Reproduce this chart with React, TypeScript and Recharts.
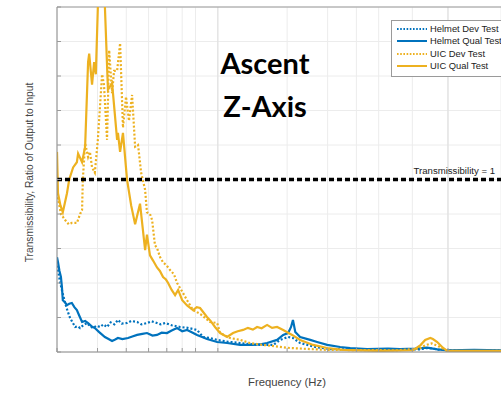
import React from 'react';
import { LineChart, Line, XAxis, YAxis, CartesianGrid, ReferenceLine } from 'recharts';

// ---- data (frequency in Hz, transmissibility ratio) ----
const freqTicks = [2, 3, 4, 5, 6, 7, 8, 9, 10, 20, 30, 40, 50, 60, 70, 80, 90, 100];
const yTicks = [0, 0.2, 0.4, 0.6, 0.8, 1.0, 1.2, 1.4, 1.6, 1.8, 2.0];

const helmetDevTest: [number, number][] = [
  [2.0, 0.5], [2.02, 0.475], [2.06, 0.41], [2.1, 0.359], [2.17, 0.284], [2.22, 0.24], [2.28, 0.197], [2.34, 0.17],
  [2.4, 0.145], [2.46, 0.15], [2.52, 0.139], [2.6, 0.155], [2.7, 0.168], [2.78, 0.15], [2.87, 0.139],
  [2.97, 0.152], [3.08, 0.145], [3.18, 0.16], [3.3, 0.145], [3.42, 0.172], [3.55, 0.16], [3.68, 0.186],
  [3.82, 0.165], [4.03, 0.168], [4.2, 0.18], [4.46, 0.174], [4.65, 0.16], [4.92, 0.168], [5.15, 0.178],
  [5.44, 0.168], [5.65, 0.16], [5.9, 0.168], [6.3, 0.155], [6.85, 0.145], [7.4, 0.14], [8.12, 0.128],
  [8.63, 0.087], [9.3, 0.08], [9.93, 0.07], [11, 0.06], [12.5, 0.052], [14.81, 0.041], [17.4, 0.041],
  [18.65, 0.07], [20.2, 0.087], [21.2, 0.081], [22.78, 0.052], [26.5, 0.029], [30.8, 0.017], [40, 0.014],
  [50, 0.012], [62, 0.013], [75, 0.015], [81, 0.023], [86, 0.02], [92, 0.012], [110, 0.01], [170, 0.01],
];

const helmetQualTest: [number, number][] = [
  [2.0, 0.55], [2.02, 0.52], [2.05, 0.47], [2.08, 0.435], [2.1, 0.38], [2.12, 0.3], [2.16, 0.29],
  [2.21, 0.272], [2.26, 0.28], [2.32, 0.284], [2.38, 0.26], [2.44, 0.243], [2.5, 0.21], [2.57, 0.174],
  [2.65, 0.18], [2.73, 0.168], [2.82, 0.15], [2.92, 0.139], [3.05, 0.115], [3.23, 0.087], [3.35, 0.075],
  [3.47, 0.064], [3.58, 0.072], [3.68, 0.081], [3.85, 0.075], [4.07, 0.081], [4.25, 0.09], [4.46, 0.099],
  [4.7, 0.105], [4.92, 0.11], [5.2, 0.095], [5.44, 0.099], [5.7, 0.112], [6.01, 0.11], [6.3, 0.125],
  [6.65, 0.139], [7.0, 0.12], [7.35, 0.128], [7.7, 0.115], [8.12, 0.099], [8.6, 0.085], [8.97, 0.075],
  [9.93, 0.058], [10.97, 0.052], [12.5, 0.041], [14.2, 0.041], [15.5, 0.046], [16.37, 0.052], [18.09, 0.07],
  [19.23, 0.099], [20.2, 0.11], [20.8, 0.145], [21.2, 0.186], [21.7, 0.116], [22.78, 0.087], [25.2, 0.07],
  [27.0, 0.058], [29.86, 0.041], [34, 0.029], [37.6, 0.023], [44.6, 0.017], [55, 0.02], [61.9, 0.017],
  [72, 0.02], [81.2, 0.025], [90, 0.015], [100, 0.01], [130, 0.012], [170, 0.01],
];

const uicDevTest: [number, number][] = [
  [2.0, 0.92], [2.02, 0.89], [2.08, 0.8], [2.17, 0.765], [2.25, 0.74], [2.32, 0.748], [2.44, 0.748],
  [2.52, 0.8], [2.57, 0.823], [2.59, 1.0], [2.65, 1.21], [2.73, 1.13], [2.78, 1.16], [2.84, 1.07],
  [2.92, 1.04], [3.01, 1.23], [3.14, 1.61], [3.2, 1.55], [3.3, 1.23], [3.37, 1.75], [3.47, 1.5],
  [3.54, 1.63], [3.65, 1.63], [3.76, 1.79], [3.87, 1.3], [3.99, 1.48], [4.11, 1.34], [4.24, 1.49],
  [4.37, 1.19], [4.5, 1.2], [4.64, 1.04], [4.83, 0.94], [4.92, 0.81], [5.07, 0.8], [5.18, 0.765],
  [5.33, 0.62], [5.45, 0.6], [5.61, 0.55], [5.78, 0.52], [6.0, 0.5], [6.2, 0.475], [6.45, 0.45],
  [6.65, 0.4], [7.0, 0.35], [7.35, 0.3], [7.8, 0.243], [8.4, 0.22], [9.25, 0.174], [9.93, 0.168],
  [10.23, 0.11], [11.3, 0.081], [12.5, 0.07], [13.8, 0.052], [15.7, 0.041], [20.6, 0.023], [30, 0.012],
  [60, 0.01], [75, 0.02], [80, 0.04], [85, 0.05], [92, 0.03], [100, 0.005], [170, 0.004],
];

const uicQualTest: [number, number][] = [
  [2.0, 1.16], [2.02, 0.92], [2.07, 0.85], [2.12, 0.81], [2.21, 0.92], [2.26, 1.0], [2.35, 1.07],
  [2.44, 1.1], [2.47, 1.15], [2.57, 1.1], [2.65, 1.19], [2.73, 1.68], [2.76, 1.73], [2.84, 1.55],
  [2.9, 1.68], [2.95, 1.61], [3.01, 2.0], [3.08, 2.3], [3.17, 2.3], [3.23, 2.0], [3.33, 1.52],
  [3.47, 1.56], [3.65, 1.23], [3.68, 1.27], [3.76, 1.16], [3.87, 1.27], [4.03, 1.0], [4.2, 0.85],
  [4.37, 0.74], [4.59, 0.86], [4.83, 0.59], [4.92, 0.68], [5.07, 0.56], [5.23, 0.53], [5.44, 0.49],
  [5.6, 0.47], [5.78, 0.435], [5.95, 0.42], [6.08, 0.4], [6.3, 0.36], [6.52, 0.33], [6.72, 0.36],
  [7.0, 0.3], [7.35, 0.27], [7.8, 0.243], [8.1, 0.26], [8.37, 0.255], [8.97, 0.203], [9.3, 0.18],
  [9.72, 0.145], [10.23, 0.11], [10.97, 0.087], [11.64, 0.11], [12.2, 0.12], [12.88, 0.128],
  [13.5, 0.14], [14.2, 0.13], [14.81, 0.145], [15.5, 0.138], [16.37, 0.157], [17.2, 0.14],
  [18.09, 0.145], [19.23, 0.128], [21.03, 0.099], [22.78, 0.07], [25.94, 0.041], [29.86, 0.023],
  [35.03, 0.012], [50.7, 0.006], [70.6, 0.01], [76, 0.04], [79.6, 0.07], [83.8, 0.081], [86, 0.075],
  [89.8, 0.058], [95, 0.025], [99.2, 0.006], [170, 0.006],
];

const toRows = (pts: [number, number][]) => pts.map(([f, v]) => ({ f, v }));

const BLUE = '#0072BD';
const GOLD = '#EDB120';

const seriesList = [
  { name: 'Helmet Dev Test', data: helmetDevTest, color: BLUE, dashed: true },
  { name: 'Helmet Qual Test', data: helmetQualTest, color: BLUE, dashed: false },
  { name: 'UIC Dev Test', data: uicDevTest, color: GOLD, dashed: true },
  { name: 'UIC Qual Test', data: uicQualTest, color: GOLD, dashed: false },
];

const FONT = '"Liberation Sans", Arial, sans-serif';

const LegendBox = () => (
  <div
    style={{
      position: 'absolute',
      left: 391,
      top: 20,
      border: '1px solid #9a9a9a',
      background: '#fff',
      width: 130,
      padding: '1.5px 0 3px 5px',
      fontFamily: FONT,
      fontSize: 9.4,
      color: '#222',
      boxSizing: 'border-box',
    }}
  >
    {seriesList.map((s) => (
      <div key={s.name} style={{ display: 'flex', alignItems: 'center', height: 12.5, lineHeight: '12.5px' }}>
        <svg width={30} height={6} style={{ marginRight: 3 }}>
          <line
            x1={0}
            x2={30}
            y1={3}
            y2={3}
            stroke={s.color}
            strokeWidth={2}
            strokeDasharray={s.dashed ? '1.6 1.6' : undefined}
          />
        </svg>
        <span style={{ whiteSpace: 'nowrap' }}>{s.name}</span>
      </div>
    ))}
  </div>
);

const bigText: React.CSSProperties = {
  position: 'absolute',
  left: 165,
  width: 200,
  textAlign: 'center',
  fontFamily: 'Lato, sans-serif',
  fontWeight: 700,
  fontSize: 29,
  lineHeight: '29px',
  color: '#000',
};

const YLabel = (props: any) => {
  const vb = props.viewBox || { x: 0, y: 7, width: 57, height: 345 };
  const cx = vb.x + 33;
  const cy = vb.y + vb.height / 2 - 7;
  return (
    <text
      x={cx}
      y={cy}
      transform={`rotate(-90 ${cx} ${cy})`}
      textAnchor="middle"
      fill="#444"
      fontSize={10.2}
      fontFamily={FONT}
    >
      Transmissibility, Ratio of Output to Input
    </text>
  );
};

export default function App() {
  return (
    <div style={{ position: 'absolute', left: 0, top: 0, width: 501, height: 394, overflow: 'hidden', background: '#fff' }}>
      <LineChart width={501} height={394} margin={{ top: 7, right: 0, bottom: 0, left: 0 }}>
        <CartesianGrid stroke="#ececec" strokeWidth={1} />
        <XAxis
          dataKey="f"
          type="number"
          scale="log"
          domain={[2, 170]}
          allowDataOverflow
          ticks={freqTicks}
          height={42}
          tick={() => <g />}
          tickSize={-4}
          tickLine={{ stroke: '#9a9a9a' }}
          axisLine={{ stroke: '#8a8a8a' }}
          label={{ value: 'Frequency (Hz)', position: 'insideBottom', offset: 8, dx: 8, fill: '#444', fontSize: 11.3, fontFamily: FONT }}
        />
        <YAxis
          type="number"
          domain={[0, 2]}
          allowDataOverflow
          ticks={yTicks}
          width={57}
          tick={() => <g />}
          tickSize={-4}
          tickLine={{ stroke: '#9a9a9a' }}
          axisLine={{ stroke: '#8a8a8a' }}
          label={{ value: 'Transmissibility, Ratio of Output to Input', content: YLabel }}
        />
        <ReferenceLine x={10} stroke="#dedede" />
        <ReferenceLine x={100} stroke="#dedede" />
        <ReferenceLine y={2} stroke="#9a9a9a" />
        {seriesList.map((s) => (
          <Line
            key={s.name}
            data={toRows(s.data)}
            dataKey="v"
            name={s.name}
            type="linear"
            stroke={s.color}
            strokeWidth={2.2}
            strokeDasharray={s.dashed ? '2 2' : undefined}
            dot={false}
            activeDot={false}
            isAnimationActive={false}
          />
        ))}
        <ReferenceLine
          y={1}
          stroke="#000"
          strokeWidth={3.5}
          strokeDasharray="5 3"
          label={{ value: 'Transmissibility = 1', position: 'insideBottomRight', offset: 6, fill: '#222', fontSize: 9.6, fontFamily: FONT }}
        />
      </LineChart>
      <LegendBox />
      <div style={{ ...bigText, top: 48 }}>Ascent</div>
      <div style={{ ...bigText, top: 91 }}>Z-Axis</div>
    </div>
  );
}
